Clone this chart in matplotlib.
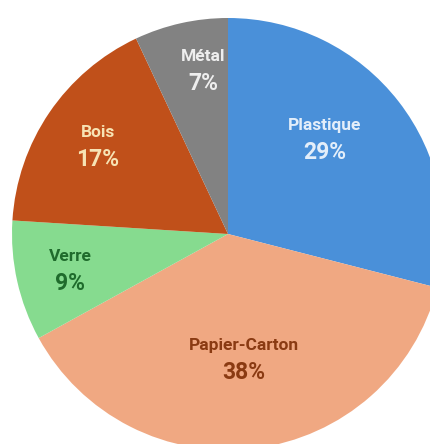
import numpy as np
import matplotlib.pyplot as plt

plt.rcParams['font.family'] = ['Roboto', 'DejaVu Sans']

# data
categories = ['Plastique', 'Papier-Carton', 'Verre', 'Bois', 'Métal']
shares = [29, 38, 9, 17, 7]

colors = ['#4a90d9', '#f0a882', '#86db8f', '#c0501a', '#828282']
text_colors = ['#e3eefa', '#8a3a12', '#1f6b2c', '#f7e3b4', '#eeeeee']
label_dist = [0.63, 0.58, 0.75, 0.73, 0.77]
angle_shift = [7, 0, 0, 0, -4]

W, H = 430, 444
fig = plt.figure(figsize=(W / 100, H / 100), dpi=100)
ax = fig.add_axes([0, 0, 1, 1])

cx, cy, r = 228, H - 234, 216
wedges, _ = ax.pie(shares, colors=colors, startangle=90, counterclock=False,
                   center=(cx, cy), radius=r, frame=True,
                   wedgeprops=dict(linewidth=0))

for w, name, val, tc, d, sh in zip(wedges, categories, shares, text_colors,
                                   label_dist, angle_shift):
    ang = np.deg2rad((w.theta1 + w.theta2) / 2 + sh)
    x = cx + d * r * np.cos(ang)
    y = cy + d * r * np.sin(ang)
    ax.text(x, y + 13, name, ha='center', va='center', fontsize=12.5,
            fontweight='bold', color=tc)
    ax.text(x, y - 14, f'{val}%', ha='center', va='center', fontsize=16.5,
            fontweight='bold', color=tc)

ax.set_xlim(0, W)
ax.set_ylim(0, H)
ax.set_aspect('auto')
ax.axis('off')

fig.savefig('out.png', dpi=100)
